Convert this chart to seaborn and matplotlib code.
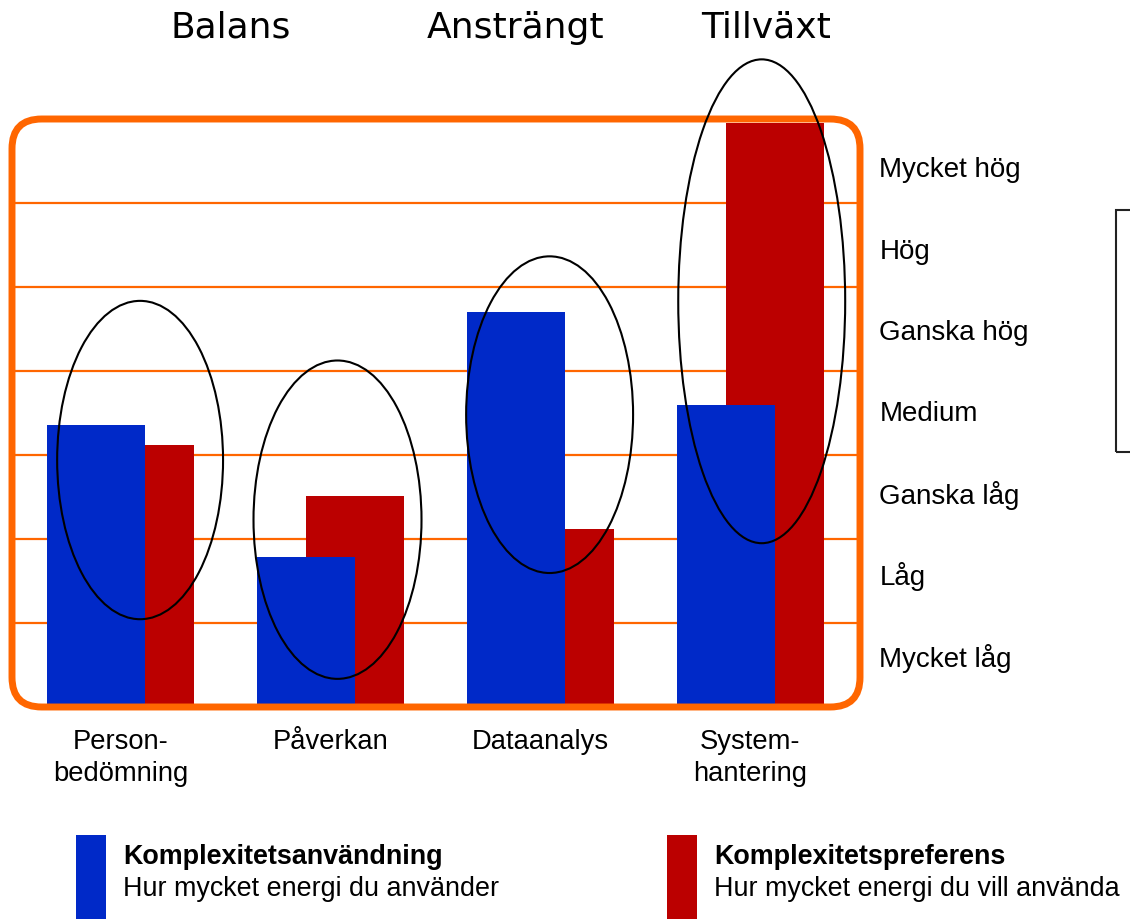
import numpy as np
import pandas as pd
import seaborn as sns
import matplotlib.pyplot as plt
from matplotlib.patches import Ellipse, FancyBboxPatch, Rectangle
from matplotlib.transforms import blended_transform_factory

# --- data (scale: 0 = bottom, 7 = top of box) ---
categories = ["Person-\nbedömning", "Påverkan", "Dataanalys", "System-\nhantering"]
usage = [3.36, 1.79, 4.70, 3.60]          # Komplexitetsanvändning (blue)
preference = [3.12, 2.51, 2.12, 6.95]     # Komplexitetspreferens (red)
levels = ["Mycket låg", "Låg", "Ganska låg", "Medium", "Ganska hög", "Hög", "Mycket hög"]
zones = ["Balans", "Ansträngt", "Tillväxt"]
legend_titles = ["Komplexitetsanvändning", "Komplexitetspreferens"]
legend_texts = ["Hur mycket energi du använder", "Hur mycket energi du vill använda"]

BLUE = "#0029C8"
RED = "#BB0000"
ORANGE = "#FF6600"

sns.set_style("white")
plt.rcParams["font.family"] = ["Liberation Sans", "DejaVu Sans"]
plt.rcParams["text.color"] = "black"
plt.rcParams["xtick.color"] = "black"
plt.rcParams["ytick.color"] = "black"

W, H = 1130, 920
fig = plt.figure(figsize=(W / 100, H / 100), dpi=100)
ax = fig.add_axes([12 / W, 1 - 708 / H, 848 / W, 588 / H])

offset = 0.233
width = 0.467
pos = np.arange(len(categories))
df = pd.DataFrame({"pos": pos, "usage": usage, "preference": preference})

# red behind, blue in front, overlapping by half a bar
sns.barplot(x=df["pos"] + offset, y=df["preference"], native_scale=True, orient="x",
            width=width, color=RED, saturation=1, ax=ax)
sns.barplot(x=df["pos"], y=df["usage"], native_scale=True, orient="x",
            width=width, color=BLUE, saturation=1, ax=ax)
for p in ax.patches:
    p.set_zorder(2)
    p.set_edgecolor("none")

for y in range(1, len(levels)):
    ax.axhline(y, color=ORANGE, lw=1.6, zorder=1)

ax.set_xlim(-0.4, 3.638)
ax.set_ylim(0, 7)
sns.despine(ax=ax, left=True, bottom=True, right=True, top=True)
ax.set_xlabel("")
ax.set_ylabel("")

ax.set_xticks(pos + offset / 2)
ax.set_xticklabels(categories, fontsize=19.7, linespacing=1.3)
ax.tick_params(axis="x", length=0, pad=15)

# level labels sit slightly tighter than the bands in the original
ax.yaxis.tick_right()
ax.set_yticks(0.63 + 0.968 * np.arange(len(levels)))
ax.set_yticklabels(levels, fontsize=20)
ax.tick_params(axis="y", length=0, pad=14)

# rounded orange frame
frame = FancyBboxPatch((0, 0), 1, 1, boxstyle="round,pad=0,rounding_size=0.035",
                       mutation_aspect=848 / 588, transform=ax.transAxes,
                       fill=False, ec=ORANGE, lw=5, clip_on=False, zorder=4)
ax.add_patch(frame)

# hand-drawn style ellipses (centre x, centre y, width, height in data units)
rings = [(0.21, 2.94, 0.79, 3.79), (1.15, 2.23, 0.80, 3.79),
         (2.16, 3.48, 0.795, 3.77), (3.17, 4.83, 0.795, 5.76)]
for cx, cy, ew, eh in rings:
    ax.add_patch(Ellipse((cx, cy), ew, eh, fill=False, ec="black", lw=1.5,
                         clip_on=False, zorder=5))

# zone titles above the chart
trans = blended_transform_factory(ax.transData, fig.transFigure)
for name, zx in zip(zones, [0.64, 2.0, 3.19]):
    ax.text(zx, 1 - 28 / H, name, transform=trans, ha="center", va="center",
            fontsize=26, family=["DejaVu Sans"])

# partial box at the right edge
fig.add_artist(Rectangle((1116 / W, 1 - 453 / H), 60 / W, 242 / H, transform=fig.transFigure,
                         fill=False, ec="#222222", lw=1.5))

# legend at the bottom
for i, (col, x0) in enumerate([(BLUE, 76), (RED, 667)]):
    fig.add_artist(Rectangle((x0 / W, 0), 30 / W, 84 / H, transform=fig.transFigure,
                             fc=col, ec="none"))
    fig.text((x0 + 47) / W, 1 - 857 / H, legend_titles[i], fontsize=19.4,
             fontweight="bold", va="center", ha="left")
    fig.text((x0 + 47) / W, 1 - 889 / H, legend_texts[i], fontsize=19.4,
             va="center", ha="left")

fig.savefig("out.png", dpi=100)
